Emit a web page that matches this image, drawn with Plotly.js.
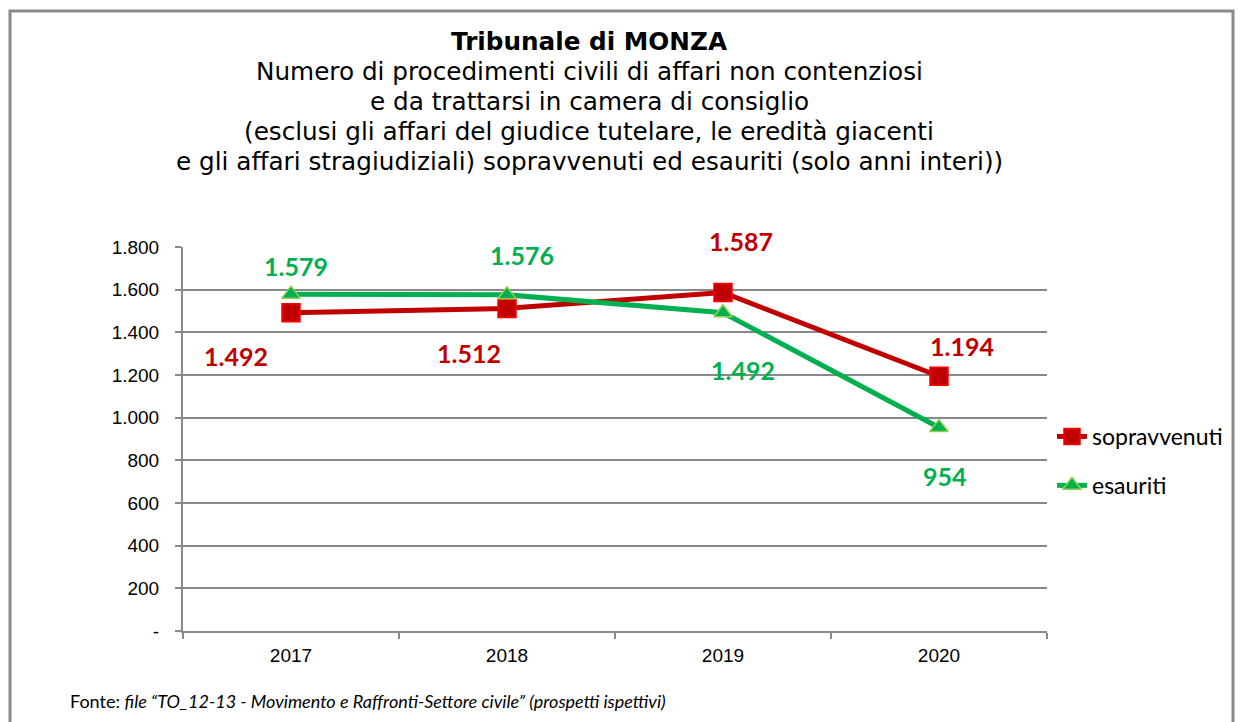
<!DOCTYPE html>
<html><head><meta charset="utf-8">
<script src="https://cdn.plot.ly/plotly-3.0.1.min.js"></script>
<style>html,body{margin:0;padding:0;background:#fff;}#chart{width:1245px;height:722px;}</style>
</head><body><div id="chart"></div>
<script>
const years = ["2017", "2018", "2019", "2020"];
const sopravvenuti = [1492, 1512, 1587, 1194];
const esauriti = [1579, 1576, 1492, 954];
const yTickVals = [0, 200, 400, 600, 800, 1000, 1200, 1400, 1600, 1800];
const yTickText = ["-", "200", "400", "600", "800", "1.000", "1.200", "1.400", "1.600", "1.800"];
const titleLines = [
  "<b>Tribunale di MONZA</b>",
  "Numero di procedimenti civili di affari non contenziosi",
  "e da trattarsi in camera di consiglio",
  "(esclusi gli affari del giudice tutelare, le eredità giacenti",
  "e gli affari stragiudiziali) sopravvenuti ed esauriti (solo anni interi))"
];
const fmt = v => v >= 1000 ? Math.floor(v/1000) + "." + String(v%1000).padStart(3,"0") : String(v);

const RED = "#C00000", GREEN = "#00B050";
const L = 183, R = 1047, T = 247, B = 631, W = 1245, H = 722;
const px = x => (x - L) / (R - L);
const py = y => (B - y) / (B - T);

const traces = [
  {x: years, y: sopravvenuti, name: "sopravvenuti", type: "scatter", mode: "lines+markers", legendgroup: "a",
   line: {color: RED, width: 5}, marker: {symbol: "square", size: 18, color: RED, line: {color: "#FF0000", width: 1.5}}},
  {x: years, y: esauriti, name: "esauriti", type: "scatter", mode: "lines+markers", legendgroup: "b",
   line: {color: GREEN, width: 5}, marker: {symbol: "triangle-up", size: 16, color: GREEN, line: {color: "#92D050", width: 1.5}}}
];

// label offsets (pixels) per point
const sopOff = [[-55, -43], [-38, -45], [18, 51], [23, 30]];
const esaOff = [[5, 28], [15, 40], [20, -57], [6, -49]];
const annotations = [];
const lblFont = c => ({family: "Lato, 'Open Sans', sans-serif", size: 25, color: c});
years.forEach((yr, i) => {
  annotations.push({x: i, y: sopravvenuti[i], xref: "x", yref: "y", text: "<b>" + fmt(sopravvenuti[i]) + "</b>",
    showarrow: false, xshift: sopOff[i][0], yshift: sopOff[i][1], font: lblFont(RED)});
  annotations.push({x: i, y: esauriti[i], xref: "x", yref: "y", text: "<b>" + fmt(esauriti[i]) + "</b>",
    showarrow: false, xshift: esaOff[i][0], yshift: esaOff[i][1], font: lblFont(GREEN)});
});
const titleYs = [42, 72, 102, 132, 162];
titleLines.forEach((t, i) => {
  annotations.push({x: px(589), y: py(titleYs[i]), xref: "paper", yref: "paper", text: t, showarrow: false,
    xanchor: "center", yanchor: "middle", font: {family: "DejaVu Sans, Verdana, sans-serif", size: 24.7, color: "#000"}});
});
annotations.push({x: px(68), y: py(701), xref: "paper", yref: "paper", xanchor: "left", yanchor: "middle", showarrow: false,
  text: "Fonte: <i>file \u201cTO_12-13 - Movimento e Raffronti-Settore civile\u201d (prospetti ispettivi)</i>",
  font: {family: "Lato, 'Open Sans', sans-serif", size: 18, color: "#000"}});

const layout = {
  width: W, height: H,
  margin: {l: L, r: W - R, t: T, b: H - B, pad: 0},
  paper_bgcolor: "#fff", plot_bgcolor: "#fff",
  showlegend: true,
  legend: {x: px(1052), y: py(415), xanchor: "left", yanchor: "top", bgcolor: "rgba(0,0,0,0)",
    font: {family: "Lato, 'Open Sans', sans-serif", size: 23, color: "#000"}, tracegroupgap: 16, traceorder: "grouped"},
  xaxis: {type: "category", range: [-0.5, 3.5], showgrid: false, zeroline: false,
    showline: true, linecolor: "#898989", linewidth: 2, ticks: "outside", tickson: "boundaries",
    ticklen: 6, tickwidth: 2, tickcolor: "#898989", fixedrange: true, ticklabelstandoff: 6,
    tickfont: {family: "Liberation Sans, Arial, sans-serif", size: 19, color: "#000"}},
  yaxis: {range: [0, 1800], tickvals: yTickVals, ticktext: yTickText, showgrid: true, gridcolor: "#898989", gridwidth: 2,
    zeroline: false, showline: true, linecolor: "#898989", linewidth: 2, ticks: "outside", ticklen: 6, tickwidth: 2,
    tickcolor: "#898989", fixedrange: true, ticklabelstandoff: 12,
    tickfont: {family: "Liberation Sans, Arial, sans-serif", size: 19, color: "#000"}},
  shapes: [
    {type: "rect", xref: "paper", yref: "paper", x0: px(10), x1: px(1233), y0: py(760), y1: py(11),
     line: {color: "#8a8a8a", width: 3}, fillcolor: "rgba(0,0,0,0)", layer: "below"}
  ],
  annotations: annotations
};
Plotly.newPlot("chart", traces, layout, {displayModeBar: false, staticPlot: true});
</script></body></html>
